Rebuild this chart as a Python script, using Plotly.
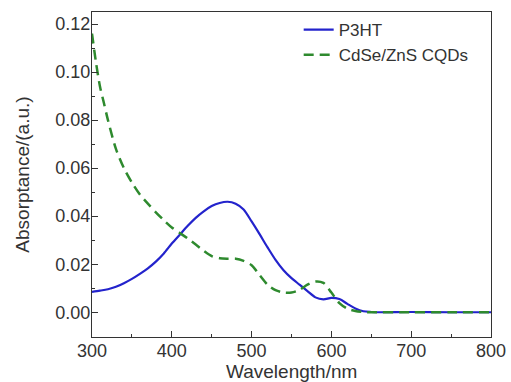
import plotly.graph_objects as go

# P3HT absorption spectrum (wavelength nm, absorptance a.u.)
p3ht_wl = [300, 310, 320, 330, 340, 350, 360, 370, 380, 390, 400, 410, 420, 430, 440,
           450, 460, 470, 480, 490, 500, 510, 520, 530, 540, 550, 560, 570, 580, 590,
           600, 610, 620, 630, 640, 650, 660, 700, 750, 800]
p3ht_abs = [0.0085, 0.0090, 0.0096, 0.0106, 0.0121, 0.0139, 0.0160, 0.0183, 0.0211, 0.0245,
            0.0286, 0.0323, 0.0360, 0.0393, 0.0420, 0.0442, 0.0455, 0.0460, 0.0452, 0.0428,
            0.0378, 0.0325, 0.0270, 0.0218, 0.0175, 0.0142, 0.0115, 0.0088, 0.0062, 0.0054,
            0.0060, 0.0055, 0.0035, 0.0016, 0.0004, 0.0001, 0.0000, 0.0001, 0.0000, 0.0000]

# CdSe/ZnS colloidal quantum dots absorption spectrum
cqd_wl = [300, 305, 310, 315, 320, 330, 340, 350, 360, 370, 380, 390, 400, 410, 420,
          430, 440, 450, 460, 470, 480, 490, 500, 510, 520, 530, 540, 550, 560, 570,
          580, 590, 600, 610, 620, 630, 640, 650, 700, 750, 800]
cqd_abs = [0.116, 0.104, 0.094, 0.087, 0.080, 0.068, 0.060, 0.054, 0.049, 0.0452, 0.0416,
           0.0383, 0.0353, 0.0330, 0.0307, 0.0282, 0.0256, 0.0234, 0.0225, 0.0223, 0.0223,
           0.0214, 0.0196, 0.0155, 0.0115, 0.0092, 0.0082, 0.0082, 0.0093, 0.0115, 0.0128,
           0.0122, 0.0082, 0.0038, 0.0015, 0.0005, 0.0001, 0.0, 0.0, 0.0, 0.0]

x_ticks = [300, 400, 500, 600, 700, 800]
y_ticks = [0.00, 0.02, 0.04, 0.06, 0.08, 0.10, 0.12]
x_title = "Wavelength/nm"
y_title = "Absorptance/(a.u.)"

fig = go.Figure()
fig.add_trace(go.Scatter(x=p3ht_wl, y=p3ht_abs, mode="lines", name="P3HT",
                         line=dict(color="#2323cc", width=2.2, shape="spline", smoothing=0.8)))
fig.add_trace(go.Scatter(x=cqd_wl, y=cqd_abs, mode="lines", name="CdSe/ZnS CQDs",
                         line=dict(color="#2e8a2e", width=2.5, dash="10px,6px",
                                   shape="spline", smoothing=0.8)))

axis_common = dict(showline=True, linecolor="#333333", linewidth=1.3, mirror=True,
                   ticks="inside", ticklen=6, tickcolor="#333333", tickwidth=1.2,
                   showgrid=False, zeroline=False, automargin=False,
                   tickfont=dict(family="Liberation Sans, Arial", size=18, color="#333333"))

fig.update_xaxes(range=[300, 800], tickvals=x_ticks, ticklabelstandoff=-3,
                 minor=dict(ticks="inside", ticklen=3, dtick=50, tickcolor="#333333", showgrid=False),
                 **axis_common)
fig.update_yaxes(range=[-0.0103, 0.125], tickvals=y_ticks, tickformat=".2f", ticklabelstandoff=-3,
                 minor=dict(ticks="inside", ticklen=3, dtick=0.01, tick0=0, tickcolor="#333333", showgrid=False),
                 **axis_common)

title_font = dict(family="Liberation Sans, Arial", size=19, color="#333333")
fig.add_annotation(text=x_title, xref="paper", yref="paper", x=0.5, y=-0.106,
                   xanchor="center", yanchor="middle", showarrow=False, font=title_font)
fig.add_annotation(text=y_title, xref="paper", yref="paper", x=-0.175, y=0.5,
                   xanchor="center", yanchor="middle", textangle=-90, showarrow=False,
                   font=dict(family="Liberation Sans, Arial", size=19, color="#333333"))

fig.update_layout(
    width=511, height=382,
    margin=dict(l=92, r=20, t=12, b=45),
    plot_bgcolor="white", paper_bgcolor="white",
    legend=dict(x=0.518, y=1.0, xanchor="left", yanchor="top",
                bgcolor="rgba(0,0,0,0)", borderwidth=0,
                font=dict(family="Liberation Sans, Arial", size=17, color="#333333"),
                tracegroupgap=0, itemwidth=30),
    showlegend=True,
)

fig.write_html("out.html")
